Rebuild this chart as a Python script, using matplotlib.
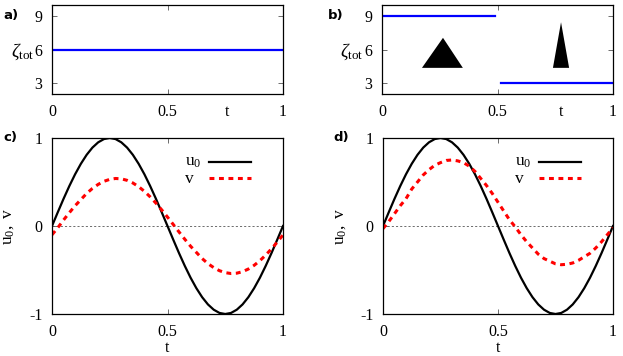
import matplotlib
matplotlib.use("Agg")
import matplotlib.pyplot as plt

plt.rcParams['font.family'] = ['Liberation Serif', 'DejaVu Serif']
plt.rcParams['mathtext.fontset'] = 'custom'
plt.rcParams['mathtext.rm'] = 'Liberation Serif'
plt.rcParams['mathtext.it'] = 'Liberation Serif:italic'
plt.rcParams['axes.unicode_minus'] = False

# ---------------- data ----------------
# top panels: zeta_tot(t)
a_t = [0.0, 1.0]
a_zeta = [6, 6]
b_t1 = [0.0, 0.49]
b_zeta1 = [9, 9]
b_t2 = [0.515, 1.0]
b_zeta2 = [3, 3]
# triangle sketches in panel b
tri_wide_x = [0.173, 0.264, 0.35]
tri_wide_y = [4.35, 7.05, 4.35]
tri_narrow_x = [0.74, 0.775, 0.81]
tri_narrow_y = [4.35, 8.45, 4.35]

# bottom panels: u0(t) and v(t)
t = [0.0, 0.025, 0.05, 0.075, 0.1, 0.125, 0.15, 0.175, 0.2, 0.225, 0.25,
     0.275, 0.3, 0.325, 0.35, 0.375, 0.4, 0.425, 0.45, 0.475, 0.5,
     0.525, 0.55, 0.575, 0.6, 0.625, 0.65, 0.675, 0.7, 0.725, 0.75,
     0.775, 0.8, 0.825, 0.85, 0.875, 0.9, 0.925, 0.95, 0.975, 1.0]
u0 = [0.0, 0.156, 0.309, 0.454, 0.588, 0.707, 0.809, 0.891, 0.951, 0.988, 1.0,
      0.988, 0.951, 0.891, 0.809, 0.707, 0.588, 0.454, 0.309, 0.156, 0.0,
      -0.156, -0.309, -0.454, -0.588, -0.707, -0.809, -0.891, -0.951, -0.988, -1.0,
      -0.988, -0.951, -0.891, -0.809, -0.707, -0.588, -0.454, -0.309, -0.156, 0.0]
v_c = [-0.10, -0.02, 0.068, 0.151, 0.23, 0.30, 0.37, 0.427, 0.473, 0.508, 0.53,
       0.54, 0.536, 0.519, 0.489, 0.447, 0.394, 0.331, 0.26, 0.183, 0.101,
       0.017, -0.068, -0.151, -0.23, -0.30, -0.37, -0.427, -0.473, -0.508, -0.53,
       -0.54, -0.536, -0.519, -0.489, -0.447, -0.394, -0.331, -0.26, -0.183, -0.101]
v_d = [-0.03, 0.05, 0.14, 0.23, 0.31, 0.42, 0.50, 0.58, 0.64, 0.69, 0.72,
       0.745, 0.75, 0.74, 0.72, 0.68, 0.62, 0.54, 0.46, 0.37, 0.27,
       0.17, 0.07, -0.01, -0.10, -0.18, -0.25, -0.32, -0.37, -0.40, -0.43,
       -0.44, -0.435, -0.42, -0.39, -0.35, -0.31, -0.25, -0.18, -0.10, -0.02]

x_ticks = [0, 0.5, 1]
x_ticklabels = ['0', '0.5', '1']
zeta_ticks = [3, 6, 9]
uv_ticks = [-1, 0, 1]
legend_labels = [r'$\mathrm{u_0}$', 'v']

BLUE = '#0000ff'
RED = '#ff0000'

W, H = 623, 356
fig = plt.figure(figsize=(W / 100, H / 100), dpi=100)

def rect(l, r, top, bot):
    return [l / W, 1 - bot / H, (r - l) / W, (bot - top) / H]

ax_a = fig.add_axes(rect(52, 283, 5, 94))
ax_b = fig.add_axes(rect(382, 613, 5, 94))
ax_c = fig.add_axes(rect(52, 283, 138, 314))
ax_d = fig.add_axes(rect(383, 613, 138, 314))

FS = 11.5

def style(ax, t_pos=None):
    ax.tick_params(direction='in', top=True, right=True, length=3.5,
                   width=0.6, labelsize=FS, pad=7, color='#555555')
    for s in ax.spines.values():
        s.set_linewidth(0.9)
    ax.set_xlim(0, 1)
    if t_pos is None:
        ax.set_xticks(x_ticks)
        ax.set_xticklabels(x_ticklabels)
    else:
        # axis name "t" sits in the tick-label row (no tick mark)
        ticks = x_ticks[:2] + [t_pos] + x_ticks[2:]
        ax.set_xticks(ticks)
        ax.set_xticklabels(x_ticklabels[:2] + ['t'] + x_ticklabels[2:])
        tk = ax.xaxis.get_major_ticks()[2]
        tk.tick1line.set_visible(False)
        tk.tick2line.set_visible(False)

# top panels
for ax, tp in ((ax_a, 0.757), (ax_b, 0.774)):
    style(ax, tp)
    ax.set_ylim(2, 10)
    ax.set_yticks(zeta_ticks)
    ax.set_ylabel(r'$\zeta_{\mathrm{tot}}$', rotation=0, fontsize=FS + 2,
                  va='center', ha='center')

ax_a.plot(a_t, a_zeta, color=BLUE, lw=1.6)
ax_b.plot(b_t1, b_zeta1, color=BLUE, lw=1.6)
ax_b.plot(b_t2, b_zeta2, color=BLUE, lw=1.6)
ax_b.fill(tri_wide_x, tri_wide_y, color='black', lw=0)
ax_b.fill(tri_narrow_x, tri_narrow_y, color='black', lw=0)

ax_a.yaxis.set_label_coords(-0.125, 0.47)
ax_b.yaxis.set_label_coords(-0.13, 0.47)

# bottom panels
for ax, v in ((ax_c, v_c), (ax_d, v_d)):
    style(ax)
    ax.set_ylim(-1, 1)
    ax.set_yticks(uv_ticks)
    ax.axhline(0, color='#555555', lw=0.6, ls=(0, (2.5, 2.5)))
    ax.plot(t, u0, color='black', lw=1.6)
    ax.plot(t, v, color=RED, lw=2.2, ls=(0, (1.6, 1.5)))
    ax.set_xlabel('t', fontsize=FS, labelpad=0)
    ax.set_ylabel(r'$\mathrm{u_0,\ v}$', fontsize=FS + 1)
    # key (gnuplot style: text left, sample right)
    tr = ax.transAxes
    ax.text(0.576, 0.865, legend_labels[0], transform=tr, fontsize=FS + 1,
            ha='left', va='center')
    ax.text(0.576, 0.765, legend_labels[1], transform=tr, fontsize=FS + 1,
            ha='left', va='center')
    ax.plot([0.68, 0.86], [0.864, 0.864], transform=tr, color='black', lw=1.6)
    ax.plot([0.68, 0.86], [0.772, 0.772], transform=tr, color=RED, lw=2.2,
            ls=(0, (1.6, 1.5)))

ax_c.yaxis.set_label_coords(-0.155, 0.5)
ax_d.yaxis.set_label_coords(-0.15, 0.5)

# panel labels
lab_kw = dict(fontsize=9.5, fontweight='bold', family='DejaVu Sans',
              va='center', ha='left')
fig.text(3 / W, 1 - 15 / H, 'a)', **lab_kw)
fig.text(328 / W, 1 - 15 / H, 'b)', **lab_kw)
fig.text(3 / W, 1 - 137 / H, 'c)', **lab_kw)
fig.text(333 / W, 1 - 137 / H, 'd)', **lab_kw)

fig.savefig('out.png', dpi=100)
